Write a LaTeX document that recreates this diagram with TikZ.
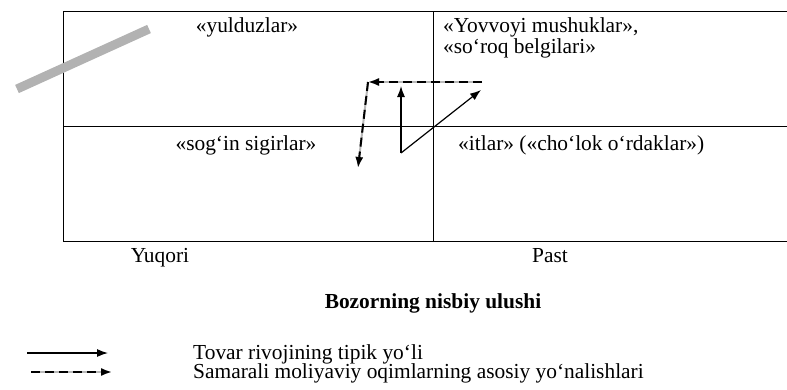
\documentclass[tikz,border=0pt]{standalone}
\usepackage{fontspec}
\setmainfont{Liberation Serif}
\usetikzlibrary{arrows.meta}
\begin{document}
\begin{tikzpicture}[x=1pt,y=-1pt,
  grid/.style={line width=0.9pt, black},
  label/.style={font=\fontsize{21.4}{21}\selectfont, inner sep=0pt},
  pathsolid/.style={line width=1.2pt, -{Latex[length=11pt,width=8pt]}},
  pathdash/.style={line width=2pt, -{Latex[length=11pt,width=8pt]},
    preaction={draw, line width=2pt, gray!55},
    dash pattern=on 9pt off 5pt},
  marker/.style={line width=9pt, gray!60}]
\useasboundingbox (0,0) rectangle (787,389);
% matrix frame
\coordinate (tl) at (63,11);
\coordinate (tr) at (787,11);
\coordinate (bl) at (63,241);
\coordinate (br) at (787,241);
\coordinate (ml) at (63,126);
\coordinate (mr) at (787,126);
\coordinate (mt) at (433,11);
\coordinate (mb) at (433,241);
\draw[grid] (tr) -- (tl) -- (bl) -- (br);
\draw[grid] (ml) -- (mr);
\draw[grid] (mt) -- (mb);
% highlight bar
\coordinate (b1) at (17,89);
\coordinate (b2) at (149,29);
\draw[marker] (b1) -- (b2);
% quadrant labels
\node[label, anchor=base] (stars) at (247,32) {«yulduzlar»};
\node[label, anchor=base west] (cats) at (443,32) {«Yovvoyi mushuklar»,};
\node[label, anchor=base west] (marks) at (443,53) {«so‘roq belgilari»};
\node[label, anchor=base] (cows) at (246,150) {«sog‘in sigirlar»};
\node[label, anchor=base west] (dogs) at (458,150) {«itlar» («cho‘lok o‘rdaklar»)};
% axis labels
\node[label, anchor=base] (high) at (160,262) {Yuqori};
\node[label, anchor=base] (low) at (550,262) {Past};
\node[label, anchor=base, font=\fontsize{21.4}{21}\selectfont\bfseries] (share) at (433,308) {Bozorning nisbiy ulushi};
% movement paths
\coordinate (d0) at (401,153);
\coordinate (d1) at (401,86);
\coordinate (d2) at (481,90);
\coordinate (f0) at (482,82);
\coordinate (f1) at (368,82);
\coordinate (f2) at (358,168);
\draw[pathsolid] (d0) -- (d1);
\draw[pathsolid] (d0) -- (d2);
\draw[pathdash] (f0) -- (f1);
\draw[pathdash] (f1) -- (f2);
% legend
\coordinate (l1a) at (27,353);
\coordinate (l1b) at (108,353);
\coordinate (l2a) at (31,372);
\coordinate (l2b) at (112,372);
\draw[pathsolid] (l1a) -- (l1b);
\draw[pathdash] (l2a) -- (l2b);
\node[label, anchor=base west] (leg1) at (193,359) {Tovar rivojining tipik yo‘li};
\node[label, anchor=base west] (leg2) at (193,378) {Samarali moliyaviy oqimlarning asosiy yo‘nalishlari};
\end{tikzpicture}
\end{document}
